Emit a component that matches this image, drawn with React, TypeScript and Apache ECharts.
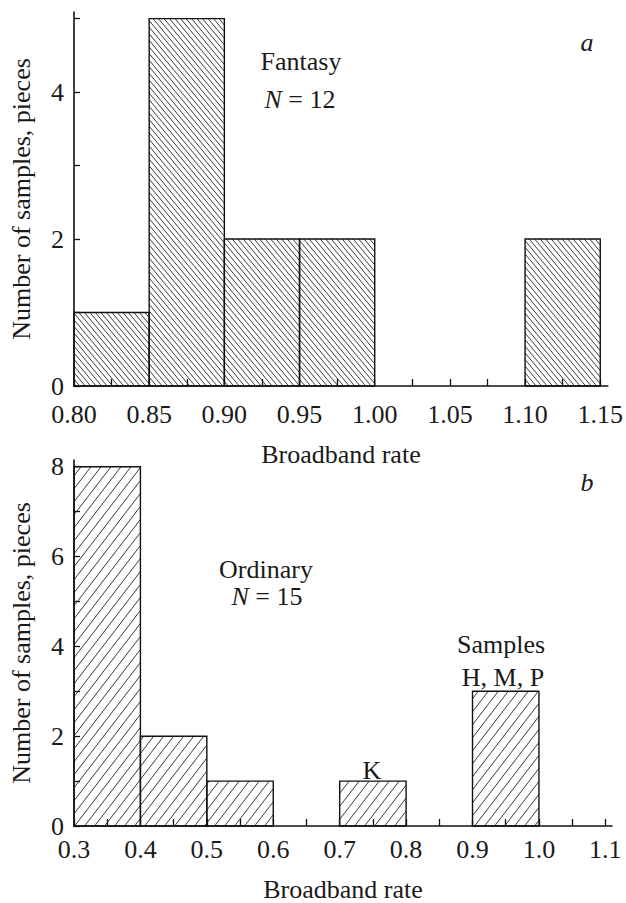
import React, { useEffect, useRef } from "react";
import * as echarts from "echarts";

// ---- Data (panel a: Fantasy) ----
const topBinEdges = [0.8, 0.85, 0.9, 0.95, 1.0, 1.05, 1.1, 1.15];
const topCounts = [1, 5, 2, 2, 0, 0, 2];
const topXLabels = [0.8, 0.85, 0.9, 0.95, 1.0, 1.05, 1.1, 1.15];
const topYTicks = [0, 1, 2, 3, 4, 5];
const topYLabels = [0, 2, 4];

// ---- Data (panel b: Ordinary) ----
const botBinEdges = [0.3, 0.4, 0.5, 0.6, 0.7, 0.8, 0.9, 1.0, 1.1];
const botCounts = [8, 2, 1, 0, 1, 0, 3, 0];
const botXLabels = [0.3, 0.4, 0.5, 0.6, 0.7, 0.8, 0.9, 1.0, 1.1];
const botYTicks = [0, 1, 2, 3, 4, 5, 6, 7, 8];
const botYLabels = [0, 2, 4, 6, 8];

const FONT = "Liberation Serif";
const FS = 26;
const INK = "#1a1a1a";

function withMinor(labels: number[]) {
  const out: number[] = [];
  for (let i = 0; i < labels.length; i++) {
    out.push(labels[i]);
    if (i < labels.length - 1) out.push(+((labels[i] + labels[i + 1]) / 2).toFixed(4));
  }
  return out;
}

function binsData(edges: number[], counts: number[]) {
  return counts.map((c, i) => [edges[i], edges[i + 1], c]);
}

function hatchLines(
  x0: number, y0: number, x1: number, y1: number,
  dir: "back" | "fwd", spacing: number, s: number
) {
  const lines: any[] = [];
  const dc = s * spacing;
  if (dir === "back") {
    const cmin = y0 - s * x1, cmax = y1 - s * x0;
    for (let c = Math.ceil(cmin / dc) * dc; c <= cmax; c += dc) {
      const xa = Math.max(x0, (y0 - c) / s);
      const xb = Math.min(x1, (y1 - c) / s);
      if (xb > xa) lines.push([xa, s * xa + c, xb, s * xb + c]);
    }
  } else {
    const cmin = y0 + s * x0, cmax = y1 + s * x1;
    for (let c = Math.ceil(cmin / dc) * dc; c <= cmax; c += dc) {
      const xa = Math.max(x0, (c - y1) / s);
      const xb = Math.min(x1, (c - y0) / s);
      if (xb > xa) lines.push([xa, -s * xa + c, xb, -s * xb + c]);
    }
  }
  return lines;
}

function makeRenderItem(dir: "back" | "fwd", spacing: number, slope: number) {
  return (params: any, api: any) => {
    const a = api.value(0), b = api.value(1), v = api.value(2);
    if (!v) return { type: "group", children: [] };
    const p0 = api.coord([a, 0]);
    const p1 = api.coord([b, v]);
    const x0 = p0[0], x1 = p1[0], y0 = p1[1], y1 = p0[1];
    const children: any[] = hatchLines(x0, y0, x1, y1, dir, spacing, slope).map((l) => ({
      type: "line",
      shape: { x1: l[0], y1: l[1], x2: l[2], y2: l[3] },
      style: { stroke: "#222", lineWidth: 0.9 },
      silent: true,
    }));
    children.push({
      type: "rect",
      shape: { x: x0, y: y0, width: x1 - x0, height: y1 - y0 },
      style: { fill: "none", stroke: "#111", lineWidth: 1.4 },
    });
    return { type: "group", children };
  };
}

function xAxisCfg(
  gridIndex: number, min: number, max: number, labels: number[], digits: number,
  margin: number, nameGap: number
) {
  return {
    type: "value",
    gridIndex,
    min,
    max,
    axisLine: { show: true, onZero: false, lineStyle: { color: "#111", width: 1.6 } },
    axisTick: {
      show: true,
      inside: true,
      length: 7,
      customValues: withMinor(labels),
      lineStyle: { color: "#111", width: 1.3 },
    },
    axisLabel: {
      show: true,
      customValues: labels,
      formatter: (v: number) => v.toFixed(digits),
      fontFamily: FONT,
      fontSize: FS,
      lineHeight: 18,
      color: INK,
      margin,
    },
    splitLine: { show: false },
    name: "Broadband rate",
    nameLocation: "middle",
    nameGap,
    nameTextStyle: { fontFamily: FONT, fontSize: FS, color: INK },
  };
}

function yAxisCfg(gridIndex: number, max: number, ticks: number[], labels: number[]) {
  return {
    type: "value",
    gridIndex,
    min: 0,
    max,
    axisLine: { show: true, onZero: false, lineStyle: { color: "#111", width: 1.6 } },
    axisTick: {
      show: true,
      inside: true,
      length: 6,
      customValues: ticks,
      lineStyle: { color: "#111", width: 1.3 },
    },
    axisLabel: {
      show: true,
      customValues: labels,
      formatter: (v: number) => String(Math.round(v)),
      fontFamily: FONT,
      fontSize: FS,
      lineHeight: 18,
      color: INK,
      margin: 10,
    },
    splitLine: { show: false },
    name: "Number of samples, pieces",
    nameLocation: "middle",
    nameGap: 40,
    nameTextStyle: { fontFamily: FONT, fontSize: FS, color: INK },
  };
}

function txt(x: number, y: number, text: string, italic = false, rich?: any) {
  return {
    type: "text",
    x,
    y,
    silent: true,
    style: {
      text,
      fontFamily: FONT,
      fontSize: FS,
      fontStyle: italic ? "italic" : "normal",
      fill: INK,
      align: "center",
      verticalAlign: "middle",
      textAlign: "center",
      textVerticalAlign: "middle",
      rich,
    },
  };
}

const richN = {
  i: { fontFamily: FONT, fontSize: FS, fontStyle: "italic", color: INK },
  n: { fontFamily: FONT, fontSize: FS, color: INK },
};

export default function App() {
  const ref = useRef<HTMLDivElement>(null);
  useEffect(() => {
    if (!ref.current) return;
    const chart = echarts.init(ref.current, undefined, { renderer: "svg" });
    chart.setOption({
      animation: false,
      backgroundColor: "#fff",
      textStyle: { fontFamily: FONT },
      grid: [
        { left: 73, top: 12, width: 539, height: 374 },
        { left: 72, top: 460, width: 540, height: 375 },
      ],
      xAxis: [
        xAxisCfg(0, 0.8, 1.155, topXLabels, 2, 19, 55),
        xAxisCfg(1, 0.3, 1.11, botXLabels, 1, 14, 50),
      ],
      yAxis: [yAxisCfg(0, 5.09, topYTicks, topYLabels), yAxisCfg(1, 8.15, botYTicks, botYLabels)],
      series: [
        {
          type: "custom",
          xAxisIndex: 0,
          yAxisIndex: 0,
          renderItem: makeRenderItem("back", 5.5, 1.2),
          encode: { x: [0, 1], y: 2 },
          data: binsData(topBinEdges, topCounts),
          clip: false,
        },
        {
          type: "custom",
          xAxisIndex: 1,
          yAxisIndex: 1,
          renderItem: makeRenderItem("fwd", 10, 1.3),
          encode: { x: [0, 1], y: 2 },
          data: binsData(botBinEdges, botCounts),
          clip: false,
        },
      ],
      graphic: [
        txt(301, 61, "Fantasy"),
        txt(300, 99, "{i|N}{n| = 12}", false, richN),
        txt(587, 42, "a", true),
        txt(266, 569, "Ordinary"),
        txt(267, 596, "{i|N}{n| = 15}", false, richN),
        txt(587, 482, "b", true),
        txt(501, 644, "Samples"),
        txt(503, 677, "H, M, P"),
        txt(372, 770, "K"),
      ],
    });
    return () => chart.dispose();
  }, []);
  return (
    <div
      ref={ref}
      style={{ position: "absolute", left: 0, top: 0, width: 626, height: 903, background: "#fff" }}
    />
  );
}
